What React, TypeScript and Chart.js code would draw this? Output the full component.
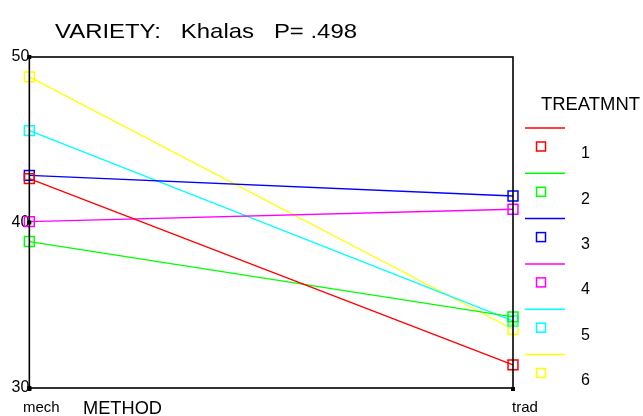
import React, { useEffect, useRef } from "react";
import { Chart, registerables } from "chart.js";

Chart.register(...registerables);

const categories = ["mech", "trad"];
const treatments = ["1", "2", "3", "4", "5", "6"];
const t1 = [42.65, 31.4];
const t2 = [38.85, 34.3];
const t3 = [42.85, 41.6];
const t4 = [40.05, 40.8];
const t5 = [45.55, 34.05];
const t6 = [48.8, 33.55];
const seriesValues = [t1, t2, t3, t4, t5, t6];
const colors = ["#ff0000", "#00ff00", "#0000ff", "#ff00ff", "#00ffff", "#ffff00"];
const yTicks = [30, 40, 50];

const FONT = "'Liberation Sans', Arial, sans-serif";

function stretchText(ctx: CanvasRenderingContext2D, text: string, x: number, y: number, size: number, targetW: number) {
  ctx.save();
  ctx.font = `${size}px ${FONT}`;
  const w = ctx.measureText(text).width;
  const sx = targetW / w;
  ctx.translate(x, y);
  ctx.scale(sx, 1);
  ctx.fillText(text, 0, 0);
  ctx.restore();
}

const decorPlugin = {
  id: "decor",
  afterDraw(chart: any) {
    const ctx = chart.ctx;
    const a = chart.chartArea;
    const xs = chart.scales.x;
    const ys = chart.scales.y;
    ctx.save();
    ctx.strokeStyle = "#000";
    ctx.lineWidth = 1.6;
    ctx.strokeRect(a.left, a.top, a.right - a.left, a.bottom - a.top);
    ctx.fillStyle = "#000";
    yTicks.forEach((v) => {
      const y = ys.getPixelForValue(v);
      ctx.fillRect(a.left - 2, y - 2, 4, 4);
    });
    categories.forEach((_, i) => {
      const x = xs.getPixelForValue(i);
      ctx.fillRect(x - 2, a.bottom - 1, 4, 4);
    });
    ctx.fillStyle = "#000";
    ctx.textBaseline = "middle";
    ctx.textAlign = "left";
    stretchText(ctx, "VARIETY:   Khalas   P= .498", 55, 32, 21, 302);
    stretchText(ctx, "METHOD", 83, 409, 18, 79);
    stretchText(ctx, "TREATMNT", 541, 105, 18, 99);
    ctx.font = `16px ${FONT}`;
    chart.data.datasets.forEach((ds: any, i: number) => {
      const base = 128 + i * 45.3;
      ctx.strokeStyle = ds.borderColor;
      ctx.lineWidth = 1.5;
      ctx.beginPath();
      ctx.moveTo(525, base);
      ctx.lineTo(565, base);
      ctx.stroke();
      ctx.strokeRect(536.5, base + 14, 9, 9);
      ctx.fillStyle = "#000";
      ctx.fillText(ds.label, 581, base + 26);
    });
    ctx.restore();
  },
};

export default function App() {
  const ref = useRef<HTMLCanvasElement | null>(null);
  useEffect(() => {
    if (!ref.current) return;
    const chart = new Chart(ref.current, {
      type: "line",
      data: {
        labels: categories,
        datasets: seriesValues.map((vals, i) => ({
          label: treatments[i],
          data: vals,
          borderColor: colors[i],
          backgroundColor: "transparent",
          borderWidth: 1.3,
          pointStyle: "rect",
          pointRadius: 7,
          pointBorderWidth: 1.5,
          pointBorderColor: colors[i],
          pointBackgroundColor: "transparent",
          tension: 0,
        })),
      },
      options: {
        responsive: false,
        animation: false,
        layout: { padding: { left: 0, top: 57, right: 130, bottom: 0 } },
        plugins: {
          legend: { display: false },
          title: { display: false },
          tooltip: { enabled: false },
        },
        scales: {
          x: {
            type: "category",
            offset: false,
            grid: { display: false, drawTicks: false },
            border: { display: false },
            ticks: {
              color: "#000",
              font: { family: FONT, size: 15 },
              padding: 11,
              labelOffset: 12,
              maxRotation: 0,
            },
            afterFit(scale: any) {
              scale.height = 28;
            },
          },
          y: {
            min: 30,
            max: 50,
            grid: { display: false, drawTicks: false },
            border: { display: false },
            ticks: {
              stepSize: 10,
              color: "#000",
              font: { family: FONT, size: 16 },
              padding: 0,
            },
            afterFit(scale: any) {
              scale.width = 28;
            },
          },
        },
      },
      plugins: [decorPlugin],
    } as any);
    return () => chart.destroy();
  }, []);
  return (
    <div style={{ position: "fixed", left: 0, top: 0, width: 643, height: 416, background: "#fff" }}>
      <canvas ref={ref} width={643} height={416} />
    </div>
  );
}
